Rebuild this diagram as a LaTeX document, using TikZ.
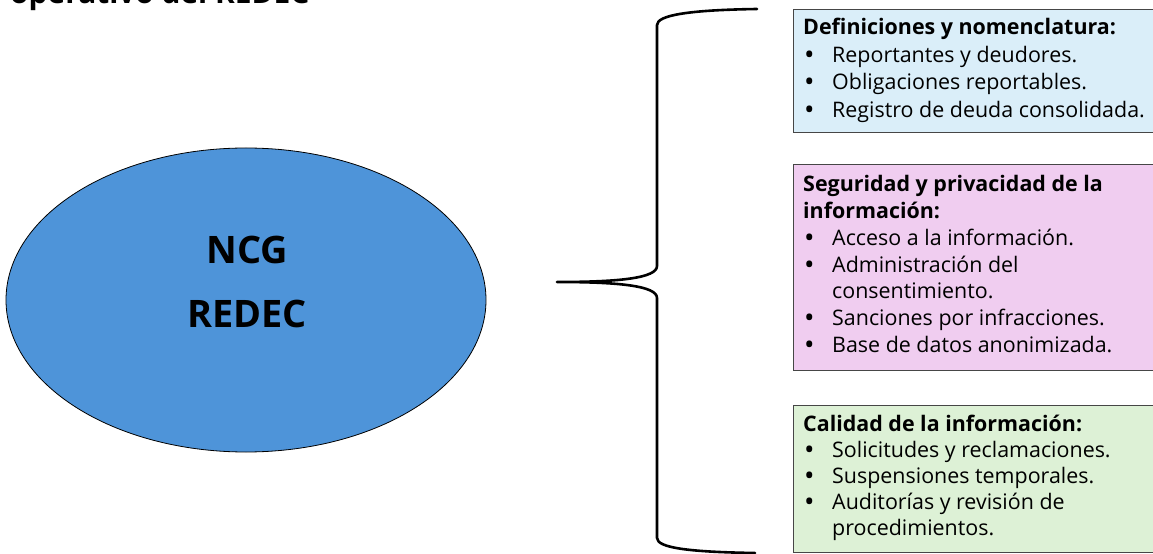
\documentclass[tikz,border=0pt]{standalone}
\usepackage{fontspec}
\usepackage{graphicx}
\setmainfont{Open Sans}
\usetikzlibrary{shapes.geometric}

\definecolor{corefill}{RGB}{78,148,217}
\definecolor{boxblue}{RGB}{218,238,249}
\definecolor{boxpink}{RGB}{240,205,240}
\definecolor{boxgreen}{RGB}{221,241,214}
\definecolor{boxedge}{RGB}{70,70,70}

% one bulleted line inside a panel
\newcommand{\itm}[1]{\makebox[29bp][l]{\hspace{1bp}\raisebox{-2.2bp}{\fontsize{28}{28}\selectfont •}}#1}

\begin{document}
\begin{tikzpicture}[x=1bp,y=-1bp,
  panel/.style={draw=boxedge,line width=1bp,anchor=north west,inner sep=0,minimum width=400bp},
  paneltext/.style={anchor=base west,inner sep=0,font=\fontsize{21.5}{27.5}\selectfont},
  bracestroke/.style={line width=2.6bp,line cap=round,line join=round}]
\useasboundingbox (0,0) rectangle (1153,554);
\clip (0,0) rectangle (1153,554);

% heading, running off the top edge
\node[anchor=base west,inner sep=0,font=\fontsize{30}{36}\bfseries\selectfont] (heading) at (10,4) {operativo del REDEC};

% central ellipse
\node[ellipse,draw=black,line width=0.8bp,fill=corefill,minimum width=480bp,minimum height=304bp,inner sep=0] (core) at (246,300) {};
\node[align=center,inner sep=0,font=\fontsize{38}{64}\bfseries\selectfont] (corelabel) at (247,282) {NCG\\REDEC};

% brace
\coordinate (tip) at (557,282);
\coordinate (topend) at (757,9);
\coordinate (botend) at (755,553);
\draw[bracestroke] (topend) .. controls (690,10) and (657,15) .. (657,25)
  -- (657,266) .. controls (657,278) and (620,282) .. (tip)
  .. controls (620,282) and (657,286) .. (657,298)
  -- (657,538) .. controls (657,548) and (690,552) .. (botend);

% panels
\node[panel,fill=boxblue,minimum height=123bp] (defs) at (793,9) {};
\node[paneltext] (defstext) at (803,35) {\parbox[t]{400bp}{\raggedright
  \textbf{Definiciones y nomenclatura:}\\
  \itm{Reportantes y deudores.}\\
  \itm{Obligaciones reportables.}\\
  \itm{Registro de deuda consolidada.}}};

\node[panel,fill=boxpink,minimum height=206bp] (secu) at (793,164) {};
\node[paneltext,font=\fontsize{21.5}{26.8}\selectfont] (secutext) at (803,192) {\parbox[t]{400bp}{\raggedright
  \textbf{Seguridad y privacidad de la}\\
  \textbf{información:}\\
  \itm{Acceso a la información.}\\
  \itm{Administración del}\\
  \hspace*{29bp}consentimiento.\\
  \itm{Sanciones por infracciones.}\\
  \itm{Base de datos anonimizada.}}};

\node[panel,fill=boxgreen,minimum height=147bp] (qual) at (793,405) {};
\node[paneltext,font=\fontsize{21.5}{26.2}\selectfont] (qualtext) at (803,431) {\parbox[t]{400bp}{\raggedright
  \textbf{Calidad de la información:}\\
  \itm{Solicitudes y reclamaciones.}\\
  \itm{Suspensiones temporales.}\\
  \itm{Auditorías y revisión de}\\
  \hspace*{29bp}procedimientos.}};
\end{tikzpicture}
\end{document}
